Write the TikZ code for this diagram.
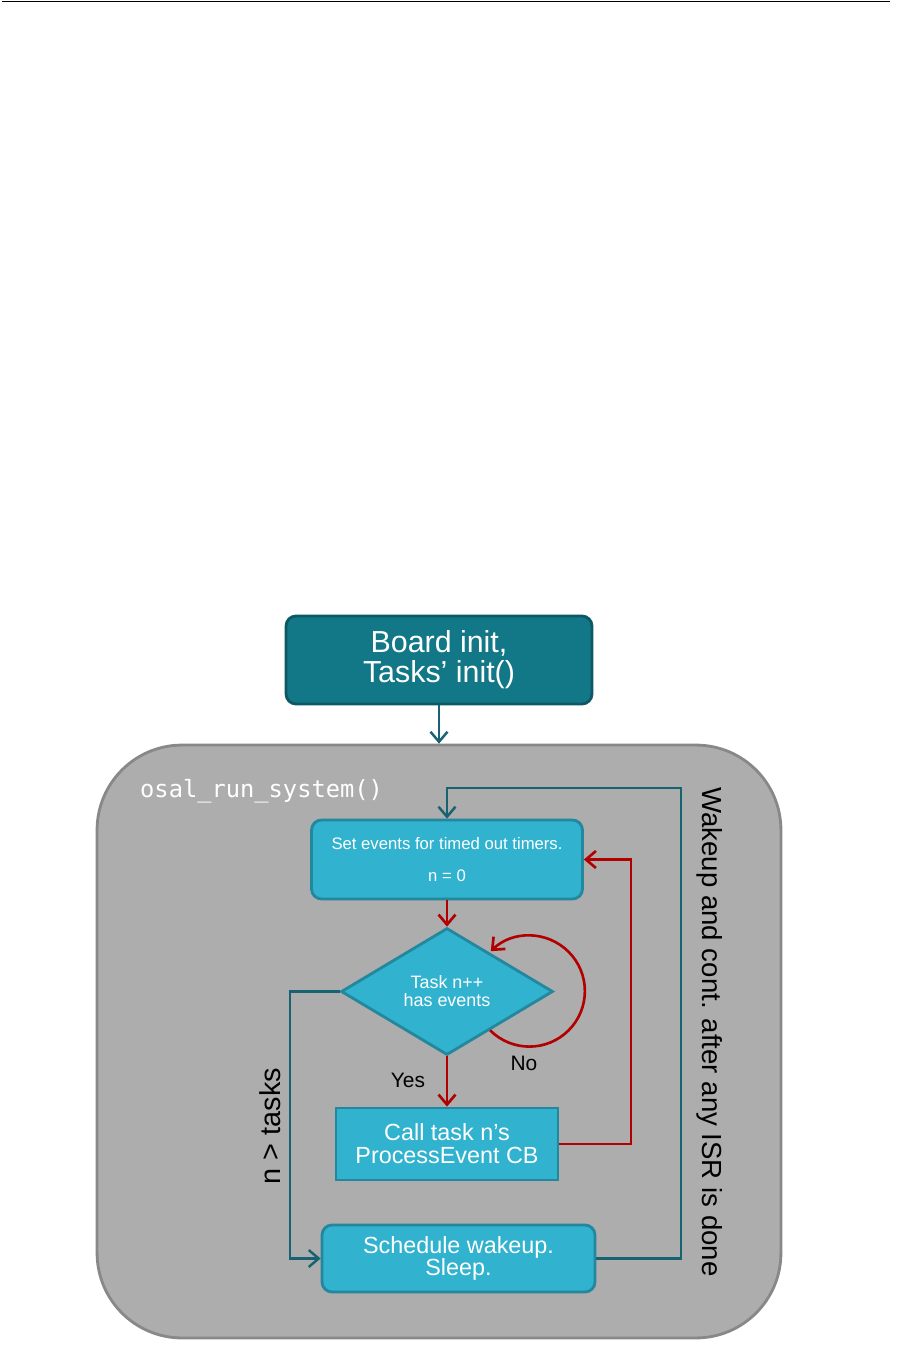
\documentclass[tikz,border=0pt]{standalone}
\usepackage{fontspec}
\setmainfont{Liberation Sans}
\setmonofont{DejaVu Sans Mono}
\usetikzlibrary{arrows.meta,shapes.geometric}

\definecolor{boardfill}{RGB}{18,119,135}
\definecolor{boardline}{RGB}{12,88,100}
\definecolor{boxfill}{RGB}{49,178,206}
\definecolor{boxline}{RGB}{35,135,158}
\definecolor{sysfill}{RGB}{173,173,173}
\definecolor{sysline}{RGB}{136,136,136}
\definecolor{linetl}{RGB}{23,99,114}
\definecolor{linerd}{RGB}{178,0,0}

\begin{document}
\begin{tikzpicture}[x=0.02cm, y=-0.02cm,
    every node/.style={font=\fontsize{13.3}{13}\selectfont},
    box/.style={rectangle, draw=boxline, fill=boxfill, line width=1.6pt,
                text=white, align=center, inner sep=0pt},
    rbox/.style={box, rounded corners=0.2cm},
    e/.style={-{Straight Barb[length=2mm, width=3.4mm]}, line width=1.4pt},
    tl/.style={e, draw=linetl},
    rd/.style={e, draw=linerd, line width=1.5pt},
  ]
  \useasboundingbox (0,0) rectangle (902,1348);
  \draw[line width=1.1pt] (2,1.5) -- (890,1.5);
  \node[rbox, draw=boardline, fill=boardfill, minimum width=6.12cm, minimum height=1.76cm,
        font=\fontsize{17.3}{17}\selectfont] (board) at (439,660) {Board init,\\Tasks’ init()};
  \node[draw=sysline, fill=sysfill, line width=1.6pt, rounded corners=1.7cm,
        minimum width=13.68cm, minimum height=11.86cm] (sys) at (439,1041.5) {};
  \node[anchor=west, text=white, font=\ttfamily\fontsize{13.5}{13}\selectfont] (osal) at (134,791) {osal\_run\_system()};
  \node[rbox, minimum width=5.42cm, minimum height=1.58cm,
        font=\fontsize{9.5}{18}\selectfont] (setev) at (447,859.5) {Set events for timed out timers.\\n = 0};
  \node[box, diamond, minimum width=4.24cm, minimum height=2.54cm,
        font=\fontsize{10.2}{10.2}\selectfont] (dia) at (447,991.5) {Task n++\\has events};
  \node[box, minimum width=4.44cm, minimum height=1.44cm] (call) at (447,1144) {Call task n’s\\ProcessEvent CB};
  \node[rbox, minimum width=5.46cm, minimum height=1.34cm] (sched) at (458.5,1258.5) {Schedule wakeup.\\Sleep.};
  \node[font=\fontsize{11.9}{12}\selectfont] (yes) at (408,1080) {Yes};
  \node[font=\fontsize{11.9}{12}\selectfont] (no) at (524,1063) {No};
  \node[rotate=90, font=\fontsize{16.4}{16}\selectfont] (ntasks) at (270,1126) {n > tasks};
  \node[rotate=-90, font=\fontsize{15.7}{15}\selectfont] (wake) at (710,1032) {Wakeup and cont. after any ISR is done};
  \coordinate (wk) at (681,788);
  \coordinate (rt) at (631,859.5);
  \coordinate (lf) at (290,991.5);
  \draw[tl] (board) -- (sys.north);
  \draw[tl] (sched.east) -| (wk) -| (setev.north);
  \draw[rd] (setev) -- (dia);
  \draw[rd] (dia) -- (call);
  \draw[rd] (call.east) -| (rt) -- (setev.east);
  \draw[tl] (dia.west) -- (lf) |- (sched.west);
  \draw[rd] (dia.-42) arc[start angle=135, end angle=-134, radius=55.5];
\end{tikzpicture}
\end{document}
